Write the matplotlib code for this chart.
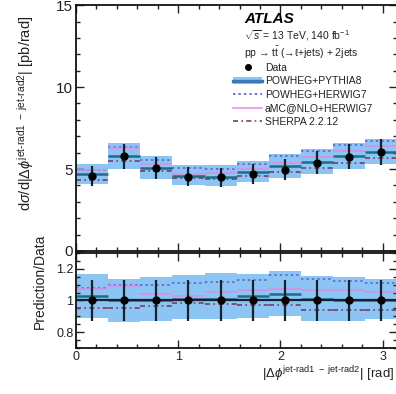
#!/usr/bin/env python3
"""Differential cross-section in |dphi(jet-rad1, jet-rad2)| with MC comparison and ratio panel."""

import matplotlib
matplotlib.use("Agg")
import matplotlib.pyplot as plt
import numpy as np
from matplotlib.lines import Line2D
from matplotlib.patches import Patch
from matplotlib.ticker import FormatStrFormatter, MultipleLocator

plt.rcParams["font.family"] = ["Liberation Sans", "DejaVu Sans"]
plt.rcParams["mathtext.fontset"] = "custom"
plt.rcParams["mathtext.rm"] = "Liberation Sans"
plt.rcParams["mathtext.it"] = "Liberation Sans:italic"
plt.rcParams["mathtext.bf"] = "Liberation Sans:bold"

# bin edges in |dphi| [rad]
edges = [0.0, 0.314, 0.628, 0.942, 1.257, 1.571, 1.885, 2.199, 2.513, 2.827, 3.1416]

# unfolded data [pb/rad] and total uncertainty
data = [4.57, 5.78, 5.07, 4.54, 4.49, 4.70, 4.97, 5.39, 5.75, 6.04]
data_err = [0.60, 0.76, 0.66, 0.59, 0.58, 0.61, 0.65, 0.70, 0.75, 0.79]

# predictions as ratio to data
pp8_ratio = [1.025, 1.00, 1.00, 1.012, 1.012, 1.03, 1.04, 1.01, 1.005, 1.00]
pp8_band_lo = [0.89, 0.863, 0.87, 0.88, 0.88, 0.89, 0.90, 0.87, 0.87, 0.88]
pp8_band_hi = [1.166, 1.135, 1.145, 1.16, 1.172, 1.166, 1.187, 1.155, 1.145, 1.135]
ph7_ratio = [1.08, 1.096, 1.10, 1.11, 1.117, 1.13, 1.16, 1.135, 1.125, 1.11]
amc_ratio = [1.075, 1.09, 1.043, 1.03, 1.056, 1.065, 1.075, 1.067, 1.065, 1.056]
sherpa_ratio = [0.954, 0.95, 0.965, 0.982, 0.975, 0.971, 0.971, 0.938, 0.938, 0.94]

BAND = "#8cc5f3"
PP8 = "#1f6c86"
PH7 = "#6a6ed8"
AMC = "#e28ae2"
SHERPA = "#7a3c68"
DARK = "#14232c"
TXT = "#222222"


def style_axis(ax):
    ax.tick_params(which="both", direction="in", top=True, right=True,
                   width=1.0, labelsize=10, colors=TXT, pad=2)
    ax.tick_params(which="major", length=6)
    ax.tick_params(which="minor", length=3)
    for s in ax.spines.values():
        s.set_linewidth(1.3)
        s.set_color("#111111")


def draw_models(a, scale):
    """Prediction lines, drawn bin by bin as flat segments."""
    lo, hi = e[:-1], e[1:]
    a.hlines(scale * np.array(ph7_ratio), lo, hi, colors=PH7, lw=1.4,
             linestyles=(0, (1.2, 1.6)))
    a.hlines(scale * np.array(amc_ratio), lo, hi, colors=AMC, lw=1.1)
    a.hlines(scale * np.array(sherpa_ratio), lo, hi, colors=SHERPA, lw=1.2,
             linestyles=(0, (3, 2, 1, 2)))
    a.hlines(scale * np.array(pp8_ratio), lo, hi, colors=PP8, lw=1.8)


fig = plt.figure(figsize=(3.96, 3.94), dpi=100)
ax = fig.add_axes([0.192, 0.363, 0.811, 0.624])
rax = fig.add_axes([0.192, 0.117, 0.811, 0.241], sharex=ax)

e = np.array(edges)
centers = 0.5 * (e[:-1] + e[1:])
d = np.array(data)
derr = np.array(data_err)

# main panel
ax.stairs(d * np.array(pp8_band_hi), e, baseline=d * np.array(pp8_band_lo),
          fill=True, color=BAND, lw=0)
draw_models(ax, d)
ax.errorbar(centers, d, yerr=derr, fmt="o", color="black", ms=5,
            ecolor=DARK, elinewidth=1.6, capsize=0, zorder=5)

ax.set_xlim(0, np.pi)
ax.set_ylim(0, 15)
ax.yaxis.set_major_locator(MultipleLocator(5))
ax.yaxis.set_minor_locator(MultipleLocator(1))
ax.xaxis.set_major_locator(MultipleLocator(1))
ax.xaxis.set_minor_locator(MultipleLocator(0.2))
style_axis(ax)
ax.tick_params(labelbottom=False, labelsize=11)
ax.set_ylabel(r"d$\sigma$/d|$\Delta\phi^{\mathrm{jet\text{-}rad1\ -\ jet\text{-}rad2}}$| [pb/rad]",
              fontsize=10.5, color=TXT)
ax.yaxis.set_label_coords(-0.125, 0.56)

ax.text(0.523, 0.945, "ATLAS", transform=ax.transAxes, fontsize=11,
        fontweight="bold", fontstyle="italic", va="center", ha="left")
ax.text(0.523, 0.876, r"$\sqrt{s}$ = 13 TeV, 140 fb$^{-1}$", transform=ax.transAxes,
        fontsize=7.5, va="center", ha="left", color=TXT)
ax.text(0.523, 0.805, "pp → " + r"$\mathrm{t\bar{t}}$" + " (→ℓ+jets) + 2jets",
        transform=ax.transAxes, fontsize=7.5, va="center", ha="left", color=TXT)

handles = [
    Line2D([], [], ls="none", marker="o", ms=4, color="black"),
    (Patch(facecolor=BAND, lw=0), Line2D([], [], color="#3a78b8", lw=2.4)),
    Line2D([], [], color=PH7, lw=1.4, ls=(0, (1.2, 1.6))),
    Line2D([], [], color=AMC, lw=1.1),
    Line2D([], [], color=SHERPA, lw=1.2, ls=(0, (3, 2, 1, 2))),
]
labels = ["Data", "POWHEG+PYTHIA8", "POWHEG+HERWIG7", "aMC@NLO+HERWIG7", "SHERPA 2.2.12"]
ax.legend(handles, labels, loc="upper left", bbox_to_anchor=(0.489, 0.765),
          frameon=False, fontsize=7.5, handlelength=2.8, handletextpad=0.25,
          labelspacing=0.33, borderpad=0, borderaxespad=0, labelcolor=TXT)

# ratio panel
rax.stairs(pp8_band_hi, e, baseline=pp8_band_lo, fill=True, color=BAND, lw=0)
draw_models(rax, 1.0)
rax.axhline(1.0, color=DARK, lw=1.6, zorder=4)
rax.errorbar(centers, np.ones_like(d), yerr=derr / d, fmt="o", color="black",
             ms=5, ecolor=DARK, elinewidth=1.6, capsize=0, zorder=5)

rax.set_ylim(0.7, 1.3)
rax.yaxis.set_major_locator(MultipleLocator(0.2))
rax.yaxis.set_minor_locator(MultipleLocator(0.05))
rax.yaxis.set_major_formatter(FormatStrFormatter("%g"))
style_axis(rax)
rax.tick_params(axis="both", labelsize=9)
rax.set_ylabel("Prediction/Data", fontsize=10, color=TXT)
rax.yaxis.set_label_coords(-0.09, 0.70)
rax.set_xlabel(r"|$\Delta\phi^{\mathrm{jet\text{-}rad1\ -\ jet\text{-}rad2}}$| [rad]",
               fontsize=9.5, color=TXT, ha="right")
rax.xaxis.set_label_coords(0.99, -0.17)

fig.savefig("out.png", dpi=100)
